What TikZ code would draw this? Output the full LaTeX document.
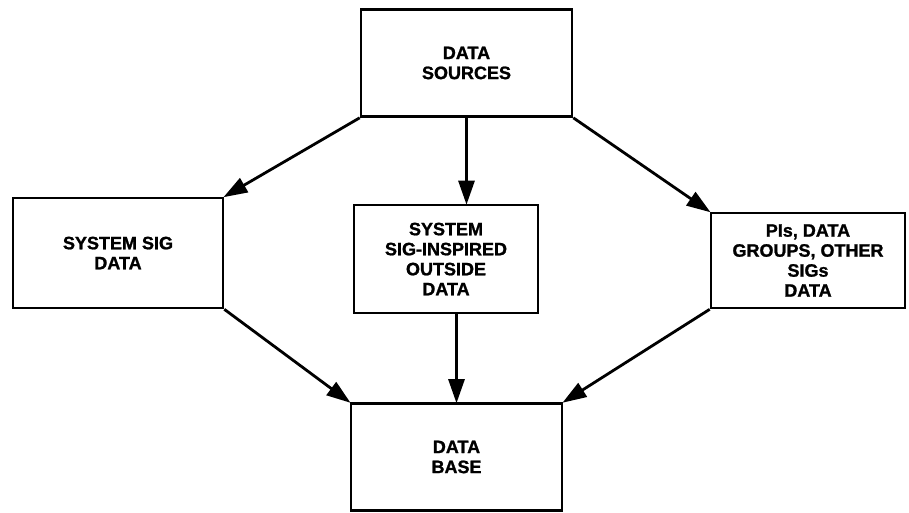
\documentclass[tikz,border=0pt]{standalone}
\usepackage{fontspec}
\setmainfont{Liberation Sans}
\usetikzlibrary{arrows.meta}
\begin{document}
\begin{tikzpicture}[x=1pt,y=-1pt,
  box/.style={draw, line width=2.6pt, align=center, inner sep=0pt,
    font=\bfseries\addfontfeature{FakeBold=1.2}\fontsize{18}{20}\selectfont},
  arr/.style={line width=2.8pt, -{Triangle[length=24pt,width=16pt]}, shorten >=-1pt}]
  \useasboundingbox (0,0) rectangle (909,512);
  \node[box, minimum width=211pt, minimum height=107pt] (src) at (466.5,63) {DATA\\SOURCES};
  \node[box, minimum width=210pt, minimum height=110pt] (sig) at (118,253) {SYSTEM SIG\\DATA};
  \node[box, minimum width=184pt, minimum height=108pt] (mid) at (446,259) {SYSTEM\\SIG-INSPIRED\\OUTSIDE\\DATA};
  \node[box, minimum width=194pt, minimum height=95pt] (oth) at (808,260.5) {PIs, DATA\\GROUPS, OTHER\\SIGs\\DATA};
  \node[box, minimum width=211pt, minimum height=107pt] (db) at (456.5,457) {DATA\\BASE};
  \draw[arr] (src.south west) -- (sig.north east);
  \draw[arr] (src.south) -- (src.south |- mid.north);
  \draw[arr] (src.south east) -- (oth.north west);
  \draw[arr] (sig.south east) -- (db.north west);
  \draw[arr] (db.north |- mid.south) -- (db.north);
  \draw[arr] (oth.south west) -- (db.north east);
\end{tikzpicture}
\end{document}
